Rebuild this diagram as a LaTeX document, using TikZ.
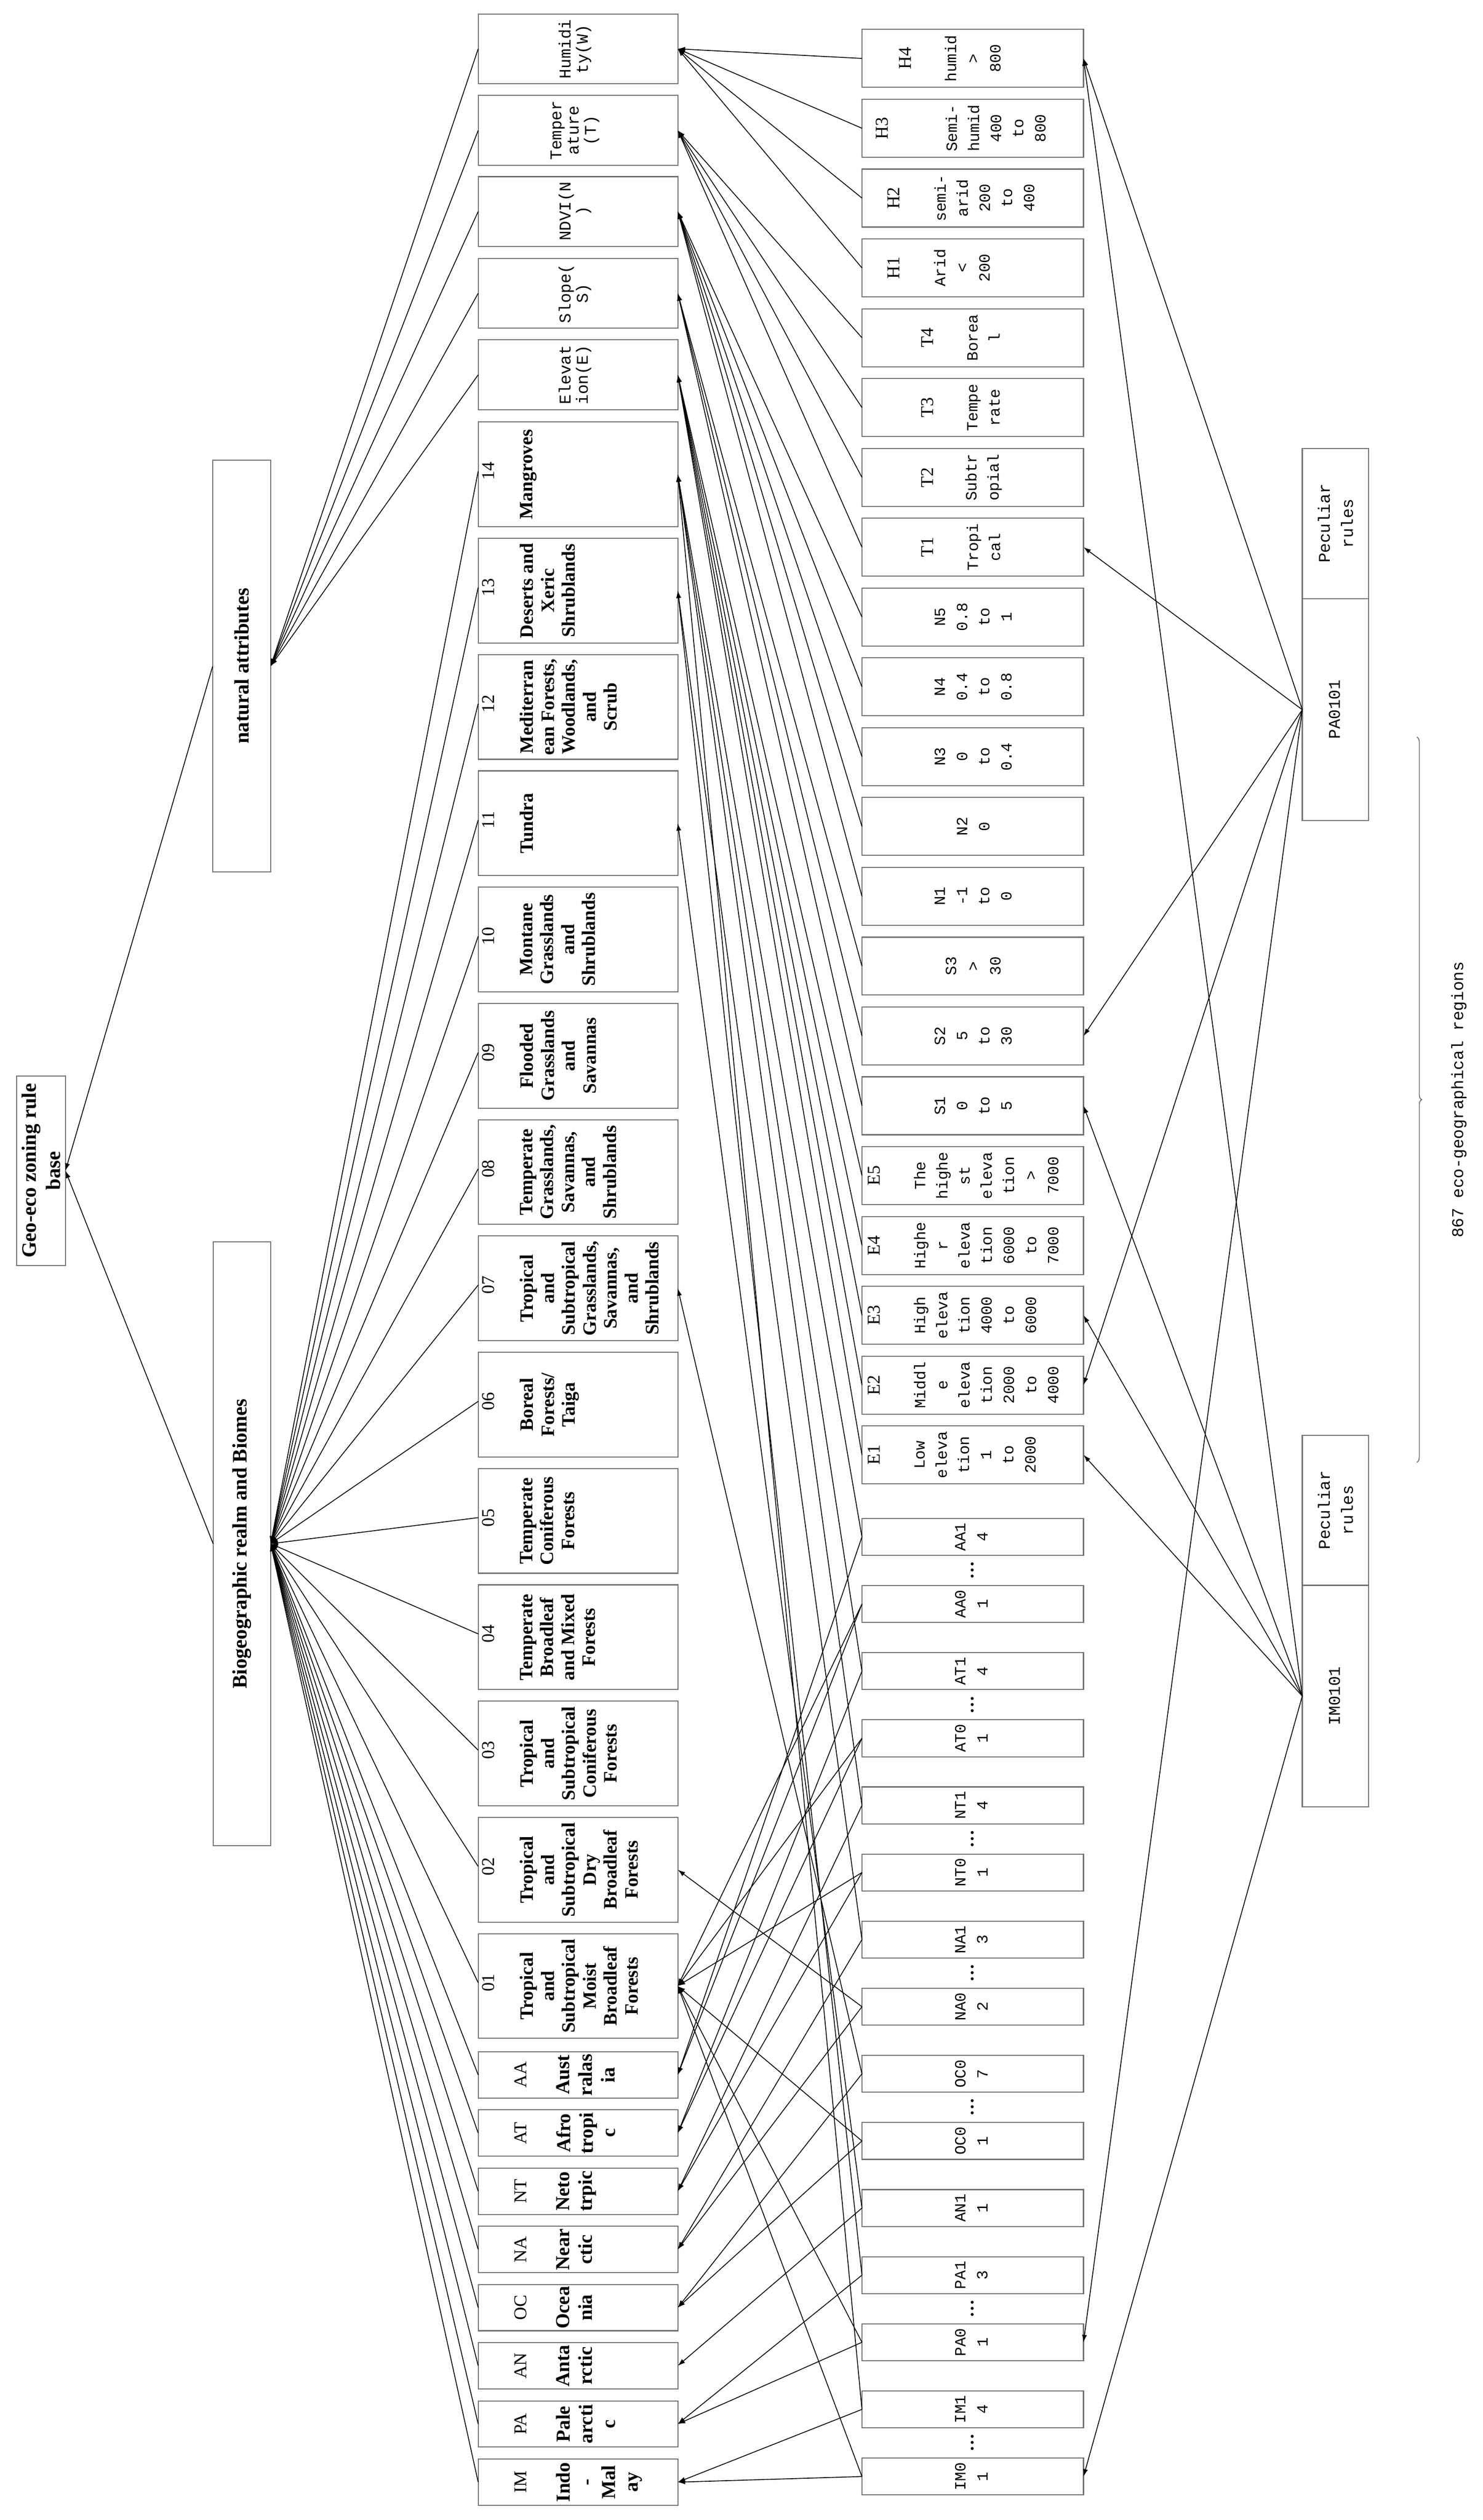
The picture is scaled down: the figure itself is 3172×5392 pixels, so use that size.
\documentclass[tikz,border=0pt]{standalone}
\usepackage{fontspec}
\setmainfont{Liberation Serif}
\newfontfamily\mon{Liberation Mono}
\usetikzlibrary{arrows.meta,decorations.pathreplacing}
\tikzset{
 bx/.style={draw=black!55, line width=1.3pt, inner sep=0, outer sep=0},
 tx/.style={rotate=90, inner sep=0, align=center},
 arr/.style={line width=1pt, -{Latex[length=9pt,width=6pt]}},
 valf/.style={font=\mon\fontsize{19}{27}\selectfont},
 attf/.style={font=\mon\fontsize{20}{21}\selectfont},
 codef/.style={font=\fontsize{22}{26}\selectfont},
 biof/.style={font=\bfseries\fontsize{23}{25.5}\selectfont},
 realf/.style={font=\bfseries\fontsize{24}{27.5}\selectfont},
 topf/.style={font=\bfseries\fontsize{25}{30}\selectfont},
}
\newcommand\boxnode[5]{\node[bx,minimum width={((#4)-(#2))*0.02cm},minimum height={((#5)-(#3))*0.02cm}] (#1) at ({((#2)+(#4))/2},{((#3)+(#5))/2}) {};}
\newcommand\valbox[6]{%
 \pgfmathsetmacro\tp{63+#1*149.4}\pgfmathsetmacro\bt{\tp+124}\pgfmathsetmacro\md{\tp+62}%
 \boxnode{#2}{1844}{\tp}{2318}{\bt}%
 \node[tx,codef] (#2c) at (#4,\md) {#3};%
 \node[tx,valf] (#2v) at (#6,\md) {#5};}
\newcommand\nsbox[3]{%
 \pgfmathsetmacro\tp{63+#1*149.4}\pgfmathsetmacro\bt{\tp+124}\pgfmathsetmacro\md{\tp+62}%
 \boxnode{#2}{1844}{\tp}{2318}{\bt}%
 \node[tx,valf] (#2v) at (2082,\md) {#3};}
\newcommand\mkbiome[3]{%
 \pgfmathsetmacro\tp{903+#2*248.8}\pgfmathsetmacro\bt{\tp+224}\pgfmathsetmacro\md{\tp+112}\pgfmathsetmacro\cd{\tp+105}%
 \boxnode{b#1}{1023}{\tp}{1450}{\bt}%
 \node[tx,codef] (b#1c) at (1045,\cd) {#1};%
 \coordinate (b#1-in) at (1023,\cd);%
 \node[tx,biof,anchor=north] (b#1n) at (1112,\md) {#3};}
\newcommand\mkrealm[3]{%
 \pgfmathsetmacro\tp{4390+#2*124.5}\pgfmathsetmacro\bt{\tp+99}\pgfmathsetmacro\md{\tp+49.5}%
 \boxnode{r#1}{1023}{\tp}{1450}{\bt}%
 \node[tx,codef] (r#1c) at (1114,\md) {#1};%
 \node[tx,realf,anchor=north] (r#1n) at (1190,\md) {#3};}
\newcommand\mkregion[3]{%
 \pgfmathsetmacro\tp{3249+#2*143.6}\pgfmathsetmacro\bt{\tp+79}\pgfmathsetmacro\md{\tp+39.5}%
 \boxnode{#1}{1844}{\tp}{2318}{\bt}%
 \node[tx,valf] (#1t) at (2078,\md) {#3};}
\newcommand\mkdots[2]{%
 \pgfmathsetmacro\dy{3249+#2*143.6+111}%
 \node[tx,valf,font=\bfseries\fontsize{22}{26}\selectfont] (d#1) at (2080,\dy) {…};}
\begin{document}
\begin{tikzpicture}[x=0.02cm,y=-0.02cm]
\useasboundingbox (0,0) rectangle (3172,5392);
% top level
\boxnode{root}{36}{2302}{140}{2708}
\node[tx,topf] (roott) at (88,2505) {Geo-eco zoning rule\\base};
\boxnode{nat}{455}{985}{579}{1866}
\node[tx,topf] (natt) at (517,1425) {natural attributes};
\boxnode{bio}{456}{2657}{579}{3949}
\node[tx,topf] (biot) at (517,3303) {Biogeographic realm and Biomes};
% attribute boxes
\pgfmathsetmacro\ta{30}
\boxnode{Hum}{1023}{30}{1450}{179}
\node[tx,attf] (Humt) at (1230,105) {Humidi\\ty(W)};
\boxnode{Tem}{1023}{204}{1450}{354}
\node[tx,attf] (Temt) at (1230,279) {Temper\\ature\\(T)};
\boxnode{NDVI}{1023}{378}{1450}{527}
\node[tx,attf] (NDVIt) at (1230,452) {NDVI(N\\)};
\boxnode{Slo}{1023}{553}{1450}{702}
\node[tx,attf] (Slot) at (1230,628) {Slope(\\S)};
\boxnode{Ele}{1023}{727}{1450}{877}
\node[tx,attf] (Elet) at (1230,802) {Elevat\\ion(E)};
% biomes
\mkbiome{14}{0}{Mangroves}
\mkbiome{13}{1}{Deserts and\\Xeric\\Shrublands}
\mkbiome{12}{2}{Mediterran\\ean Forests,\\Woodlands,\\and\\Scrub}
\mkbiome{11}{3}{Tundra}
\mkbiome{10}{4}{Montane\\Grasslands\\and\\Shrublands}
\mkbiome{09}{5}{Flooded\\Grasslands\\and\\Savannas}
\mkbiome{08}{6}{Temperate\\Grasslands,\\Savannas,\\and\\Shrublands}
\mkbiome{07}{7}{Tropical\\and\\Subtropical\\Grasslands,\\Savannas,\\and\\Shrublands}
\mkbiome{06}{8}{Boreal\\Forests/\\Taiga}
\mkbiome{05}{9}{Temperate\\Coniferous\\Forests}
\mkbiome{04}{10}{Temperate\\Broadleaf\\and Mixed\\Forests}
\mkbiome{03}{11}{Tropical\\and\\Subtropical\\Coniferous\\Forests}
\mkbiome{02}{12}{Tropical\\and\\Subtropical\\Dry\\Broadleaf\\Forests}
\mkbiome{01}{13}{Tropical\\and\\Subtropical\\Moist\\Broadleaf\\Forests}
% realms
\mkrealm{AA}{0}{Aust\\ralas\\ia}
\mkrealm{AT}{1}{Afro\\tropi\\c}
\mkrealm{NT}{2}{Neto\\trpic}
\mkrealm{NA}{3}{Near\\ctic}
\mkrealm{OC}{4}{Ocea\\nia}
\mkrealm{AN}{5}{Anta\\rctic}
\mkrealm{PA}{6}{Pale\\arcti\\c}
\mkrealm{IM}{7}{Indo\\-\\Mal\\ay}
% value boxes
\valbox{0}{H4}{H4}{1936}{humid\\>\\800}{2081}
\valbox{1}{H3}{H3}{1887}{Semi-\\humid\\400\\to\\800}{2130}
\valbox{2}{H2}{H2}{1912}{semi-\\arid\\200\\to\\400}{2106}
\valbox{3}{H1}{H1}{1912}{Arid\\<\\200}{2058}
\valbox{4}{T4}{T4}{1984}{Borea\\l}{2104}
\valbox{5}{T3}{T3}{1984}{Tempe\\rate}{2104}
\valbox{6}{T2}{T2}{1984}{Subtr\\opial}{2104}
\valbox{7}{T1}{T1}{1984}{Tropi\\cal}{2104}
\nsbox{8}{N5}{N5\\0.8\\to\\1}
\nsbox{9}{N4}{N4\\0.4\\to\\0.8}
\nsbox{10}{N3}{N3\\0\\to\\0.4}
\nsbox{11}{N2}{N2\\0}
\nsbox{12}{N1}{N1\\-1\\to\\0}
\nsbox{13}{S3}{S3\\>\\30}
\nsbox{14}{S2}{S2\\5\\to\\30}
\nsbox{15}{S1}{S1\\0\\to\\5}
\valbox{16}{E5}{E5}{1870}{The\\highe\\st\\eleva\\tion\\>\\7000}{2110}
\valbox{17}{E4}{E4}{1870}{Highe\\r\\eleva\\tion\\6000\\to\\7000}{2110}
\valbox{18}{E3}{E3}{1870}{High\\eleva\\tion\\4000\\to\\6000}{2086}
\valbox{19}{E2}{E2}{1870}{Middl\\e\\eleva\\tion\\2000\\to\\4000}{2110}
\valbox{20}{E1}{E1}{1870}{Low\\eleva\\tion\\1\\to\\2000}{2086}
% regions
\mkregion{AA14}{0}{AA1\\4}
\mkregion{AA01}{1}{AA0\\1}
\mkregion{AT14}{2}{AT1\\4}
\mkregion{AT01}{3}{AT0\\1}
\mkregion{NT14}{4}{NT1\\4}
\mkregion{NT01}{5}{NT0\\1}
\mkregion{NA13}{6}{NA1\\3}
\mkregion{NA02}{7}{NA0\\2}
\mkregion{OC07}{8}{OC0\\7}
\mkregion{OC01}{9}{OC0\\1}
\mkregion{AN11}{10}{AN1\\1}
\mkregion{PA13}{11}{PA1\\3}
\mkregion{PA01}{12}{PA0\\1}
\mkregion{IM14}{13}{IM1\\4}
\mkregion{IM01}{14}{IM0\\1}
\mkdots{AA}{0}\mkdots{AT}{2}\mkdots{NT}{4}\mkdots{NA}{6}\mkdots{OC}{8}\mkdots{PA}{11}\mkdots{IM}{13}
% peculiar rule boxes
\boxnode{PApr}{2786}{960}{2928}{1281}
\node[tx,attf,font=\mon\fontsize{20}{28}\selectfont] (PAprt) at (2857,1120) {Peculiar\\rules};
\boxnode{PA0101}{2786}{1281}{2928}{1756}
\node[tx,attf] (PA0101t) at (2855,1518) {PA0101};
\boxnode{IMpr}{2786}{3071}{2928}{3392}
\node[tx,attf,font=\mon\fontsize{20}{28}\selectfont] (IMprt) at (2857,3231) {Peculiar\\rules};
\boxnode{IM0101}{2786}{3392}{2928}{3866}
\node[tx,attf] (IM0101t) at (2855,3629) {IM0101};
% brace
\coordinate (brt) at (3031,1577);
\coordinate (brb) at (3031,3129);
\draw[decorate,decoration={brace,amplitude=6pt},line width=1pt,black!60] (brt) -- (brb);
\node[tx,attf] (regs) at (3121,2353) {867 eco-geographical regions};
% connectors
\draw[arr] (nat.west) -- (root.east);
\draw[arr] (bio.west) -- (root.east);
\foreach \a in {Hum,Tem,NDVI,Slo,Ele} \draw[arr] (\a.west) -- (nat.east);
\foreach \i in {01,02,03,04,05,06,07,08,09,10,11,12,13,14} \draw[arr] (b\i-in) -- (bio.east);
\foreach \r in {AA,AT,NT,NA,OC,AN,PA,IM} \draw[arr] (r\r.west) -- (bio.east);
\foreach \v in {H1,H2,H3,H4} \draw[arr] (\v.west) -- (Hum.east);
\foreach \v in {T1,T2,T3,T4} \draw[arr] (\v.west) -- (Tem.east);
\foreach \v in {N1,N2,N3,N4,N5} \draw[arr] (\v.west) -- (NDVI.east);
\foreach \v in {S1,S2,S3} \draw[arr] (\v.west) -- (Slo.east);
\foreach \v in {E1,E2,E3,E4,E5} \draw[arr] (\v.west) -- (Ele.east);
\foreach \g/\r/\b in {AA14/AA/14,AA01/AA/01,AT14/AT/14,AT01/AT/01,NT14/NT/14,NT01/NT/01,NA13/NA/13,NA02/NA/02,OC07/OC/07,OC01/OC/01,AN11/AN/11,PA13/PA/13,PA01/PA/01,IM14/IM/14,IM01/IM/01}
 {\draw[arr] (\g.west) -- (r\r.east); \draw[arr] (\g.west) -- (b\b.east);}
\foreach \t in {H4,T1,S2,E2,PA01} \draw[arr] (PA0101.west) -- (\t.east);
\foreach \t in {H4,S1,E3,E1,IM01} \draw[arr] (IM0101.west) -- (\t.east);
\end{tikzpicture}
\end{document}
